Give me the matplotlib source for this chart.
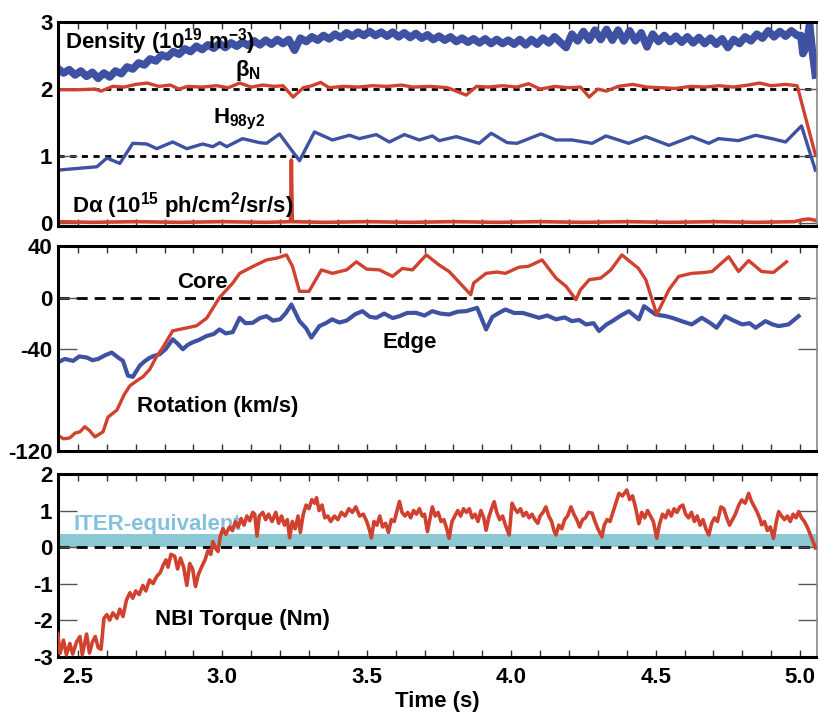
import numpy as np
import matplotlib
matplotlib.use("Agg")
import matplotlib.pyplot as plt
from matplotlib import font_manager

# ---- data ----
# top panel: line-averaged density (10^19 m^-3), sampled every 0.02 s from 2.43 s to 4.99 s
density = [
    2.31, 2.24, 2.29, 2.21, 2.27, 2.19, 2.25, 2.16, 2.24, 2.18,
    2.27, 2.23, 2.33, 2.30, 2.39, 2.36, 2.45, 2.42, 2.51, 2.48,
    2.56, 2.52, 2.60, 2.56, 2.64, 2.59, 2.66, 2.61, 2.68, 2.62,
    2.69, 2.64, 2.70, 2.65, 2.72, 2.66, 2.73, 2.67, 2.74, 2.68,
    2.74, 2.58, 2.76, 2.71, 2.78, 2.73, 2.80, 2.75, 2.82, 2.77,
    2.84, 2.79, 2.85, 2.80, 2.86, 2.80, 2.85, 2.79, 2.85, 2.78,
    2.84, 2.77, 2.83, 2.76, 2.81, 2.74, 2.79, 2.73, 2.78, 2.71,
    2.76, 2.70, 2.75, 2.69, 2.75, 2.68, 2.74, 2.68, 2.73, 2.67,
    2.74, 2.66, 2.74, 2.67, 2.76, 2.69, 2.78, 2.70, 2.62, 2.82,
    2.72, 2.86, 2.73, 2.88, 2.74, 2.89, 2.73, 2.88, 2.72, 2.87,
    2.72, 2.84, 2.63, 2.82, 2.71, 2.80, 2.71, 2.79, 2.70, 2.78,
    2.69, 2.77, 2.68, 2.76, 2.67, 2.75, 2.62, 2.74, 2.68, 2.78,
    2.72, 2.82, 2.76, 2.87, 2.78, 2.86, 2.79, 2.87, 2.80,
]
density_end_t = [5.003, 5.010, 5.020, 5.033, 5.043, 5.053]
density_end = [2.80, 2.53, 2.62, 2.96, 2.55, 2.21]

betaN_t = [2.43, 2.50, 2.56, 2.58, 2.62, 2.66, 2.70, 2.74, 2.78, 2.82, 2.85, 2.88,
           2.93, 2.98, 3.02, 3.06, 3.10, 3.14, 3.18, 3.21, 3.245, 3.28, 3.31, 3.34,
           3.37, 3.42, 3.47, 3.52, 3.57, 3.62, 3.66, 3.72, 3.78, 3.844, 3.88, 3.92,
           3.97, 4.02, 4.06, 4.10, 4.15, 4.20, 4.24, 4.27, 4.30, 4.33, 4.37, 4.42,
           4.47, 4.52, 4.57, 4.62, 4.67, 4.72, 4.77, 4.82, 4.86, 4.90, 4.95, 4.99,
           5.053]
betaN = [1.99, 1.99, 2.00, 1.97, 2.04, 2.03, 2.07, 2.09, 2.04, 2.06, 2.00, 2.04,
         2.03, 2.05, 2.02, 2.09, 2.03, 2.06, 2.04, 2.05, 1.88, 2.02, 2.05, 2.10,
         2.02, 2.04, 2.03, 2.05, 2.04, 2.06, 2.03, 2.04, 2.02, 1.91, 2.04, 2.03,
         2.05, 2.03, 2.08, 2.00, 2.04, 2.02, 2.03, 1.88, 2.00, 1.97, 2.04, 2.07,
         2.03, 2.02, 2.01, 2.04, 2.03, 2.05, 2.03, 2.06, 2.09, 2.05, 2.07, 2.05,
         1.02]

h98_t = [2.431, 2.566, 2.600, 2.645, 2.690, 2.738, 2.773, 2.828, 2.877, 2.932,
         2.967, 2.991, 3.015, 3.070, 3.129, 3.153, 3.198, 3.267, 3.319, 3.381,
         3.440, 3.474, 3.533, 3.578, 3.630, 3.682, 3.727, 3.751, 3.810, 3.889,
         3.931, 3.986, 4.020, 4.103, 4.155, 4.210, 4.280, 4.328, 4.407, 4.466,
         4.546, 4.625, 4.684, 4.718, 4.787, 4.846, 4.902, 4.950, 5.005, 5.053]
h98 = [0.79, 0.84, 0.97, 0.89, 1.19, 1.18, 1.11, 1.21, 1.11, 1.18,
       1.14, 1.20, 1.14, 1.26, 1.20, 1.19, 1.33, 0.93, 1.36, 1.24,
       1.31, 1.26, 1.32, 1.21, 1.32, 1.24, 1.30, 1.23, 1.29, 1.19,
       1.34, 1.20, 1.19, 1.33, 1.24, 1.24, 1.19, 1.30, 1.19, 1.29,
       1.16, 1.29, 1.19, 1.26, 1.23, 1.31, 1.26, 1.21, 1.45, 0.79]

dalpha_t = [2.43, 2.55, 2.70, 2.85, 3.00, 3.15, 3.236, 3.239, 3.242, 3.35, 3.50,
            3.65, 3.80, 3.95, 4.10, 4.25, 4.40, 4.55, 4.70, 4.85, 4.98, 5.01,
            5.03, 5.053]
dalpha = [0.02, 0.01, 0.02, 0.01, 0.02, 0.01, 0.02, 0.94, 0.02, 0.01, 0.02,
          0.01, 0.02, 0.01, 0.02, 0.01, 0.02, 0.01, 0.02, 0.01, 0.02, 0.05,
          0.06, 0.04]

# middle panel: toroidal rotation (km/s)
core_t = [2.430, 2.450, 2.472, 2.490, 2.507, 2.524, 2.540, 2.559, 2.587, 2.604,
          2.635, 2.660, 2.680, 2.704, 2.725, 2.749, 2.770, 2.794, 2.828, 2.870,
          2.911, 2.946, 2.990, 3.036, 3.060, 3.105, 3.130, 3.153, 3.190, 3.222,
          3.243, 3.267, 3.300, 3.343, 3.381, 3.430, 3.464, 3.500, 3.544, 3.589,
          3.623, 3.658, 3.706, 3.750, 3.785, 3.860, 3.870, 3.913, 3.950, 3.980,
          4.027, 4.060, 4.107, 4.155, 4.190, 4.224, 4.240, 4.270, 4.310, 4.345,
          4.383, 4.440, 4.466, 4.504, 4.546, 4.580, 4.625, 4.660, 4.695, 4.753,
          4.787, 4.822, 4.867, 4.908, 4.953]
core = [-107.7, -110.5, -109.8, -106.0, -105.0, -101.0, -104.0, -109.0, -105.0, -93.5,
        -88.0, -76.0, -69.0, -65.0, -62.0, -56.0, -47.0, -39.0, -26.0, -24.0,
        -22.0, -16.0, 0.0, 11.4, 19.0, 24.3, 27.0, 29.5, 31.0, 33.4,
        24.3, 4.9, 4.9, 21.7, 19.0, 21.7, 28.0, 22.3, 21.7, 16.6,
        22.8, 21.7, 33.4, 25.6, 20.4, 2.3, 11.4, 19.0, 20.0, 19.0,
        23.8, 24.5, 29.5, 15.3, 8.8, -1.6, 6.2, 14.0, 15.3, 21.7,
        33.4, 23.0, 14.0, -13.2, 6.2, 16.6, 19.0, 19.5, 20.4, 32.0,
        20.4, 29.0, 20.4, 19.7, 28.0]

edge_t = [2.430, 2.455, 2.483, 2.505, 2.531, 2.550, 2.570, 2.595, 2.617, 2.640,
          2.656, 2.673, 2.690, 2.714, 2.730, 2.749, 2.765, 2.783, 2.805, 2.828,
          2.845, 2.863, 2.880, 2.897, 2.920, 2.946, 2.970, 2.990, 3.012, 3.036,
          3.060, 3.080, 3.105, 3.130, 3.153, 3.175, 3.200, 3.220, 3.239, 3.267,
          3.290, 3.308, 3.336, 3.358, 3.380, 3.405, 3.430, 3.460, 3.485, 3.510,
          3.533, 3.560, 3.590, 3.613, 3.640, 3.670, 3.700, 3.727, 3.755, 3.785,
          3.815, 3.844, 3.882, 3.913, 3.935, 3.958, 3.980, 4.010, 4.040, 4.070,
          4.096, 4.125, 4.155, 4.185, 4.210, 4.235, 4.259, 4.285, 4.304, 4.330,
          4.350, 4.380, 4.407, 4.442, 4.460, 4.480, 4.500, 4.535, 4.560, 4.590,
          4.625, 4.660, 4.690, 4.711, 4.740, 4.770, 4.800, 4.825, 4.846, 4.880,
          4.905, 4.926, 4.960, 4.995]
edge = [-50.7, -48.0, -49.5, -46.0, -46.9, -49.0, -48.0, -45.0, -43.0, -47.0,
        -49.5, -61.0, -62.0, -53.3, -50.0, -47.0, -45.5, -44.3, -40.0, -32.6,
        -36.0, -40.4, -37.0, -35.0, -33.0, -30.0, -28.5, -24.9, -28.0, -27.0,
        -15.8, -20.0, -19.7, -16.0, -14.5, -18.0, -17.0, -12.0, -5.4, -18.4,
        -24.0, -31.3, -22.3, -20.0, -17.0, -19.5, -18.0, -13.0, -10.6, -15.0,
        -15.8, -12.5, -16.0, -14.5, -12.0, -11.9, -14.0, -10.6, -12.5, -13.2,
        -11.0, -10.6, -8.0, -24.9, -15.0, -11.9, -9.3, -12.0, -12.0, -14.0,
        -15.8, -14.0, -17.0, -15.5, -18.4, -17.5, -21.0, -20.0, -26.1, -21.0,
        -18.4, -14.0, -10.6, -17.0, -6.7, -10.0, -13.2, -14.5, -16.0, -18.4,
        -21.0, -15.8, -20.0, -23.6, -14.5, -18.0, -21.0, -20.0, -23.6, -18.4,
        -21.0, -22.3, -21.0, -14.5]

# bottom panel: NBI torque (Nm)
torque_t = [
    2.430, 2.438, 2.450, 2.460, 2.472, 2.482, 2.495, 2.507, 2.515, 2.530,
    2.540, 2.550, 2.560, 2.570, 2.580, 2.590, 2.600, 2.610, 2.621, 2.635,
    2.645, 2.656, 2.668, 2.680, 2.690, 2.700, 2.712, 2.725, 2.735, 2.748,
    2.760, 2.773, 2.785, 2.795, 2.805, 2.812, 2.822, 2.835, 2.845, 2.855,
    2.866, 2.877, 2.887, 2.897, 2.907, 2.917, 2.928, 2.940, 2.950, 2.960,
    2.967, 2.978, 2.985, 2.993, 3.002, 3.012, 3.025, 3.035, 3.045, 3.055,
    3.065, 3.075, 3.085, 3.095, 3.105, 3.112, 3.120, 3.128, 3.140, 3.150,
    3.160, 3.172, 3.185, 3.195, 3.205, 3.215, 3.225, 3.233, 3.242, 3.252,
    3.262, 3.270, 3.280, 3.290, 3.300, 3.310, 3.320, 3.326, 3.335, 3.345,
    3.355, 3.365, 3.375, 3.388, 3.400, 3.412, 3.425, 3.438, 3.450, 3.462,
    3.475, 3.488, 3.500, 3.510, 3.516, 3.525, 3.535, 3.545, 3.555, 3.565,
    3.575, 3.585, 3.595, 3.605, 3.613, 3.622, 3.632, 3.642, 3.652, 3.662,
    3.672, 3.682, 3.692, 3.700, 3.710, 3.718, 3.727, 3.737, 3.747, 3.757,
    3.767, 3.777, 3.785, 3.795, 3.805, 3.815, 3.825, 3.835, 3.845, 3.855,
    3.865, 3.875, 3.885, 3.895, 3.905, 3.913, 3.922, 3.932, 3.941, 3.950,
    3.960, 3.970, 3.980, 3.993, 4.003, 4.012, 4.022, 4.032, 4.042, 4.052,
    4.062, 4.072, 4.082, 4.092, 4.100, 4.110, 4.120, 4.130, 4.140, 4.148,
    4.155, 4.165, 4.175, 4.185, 4.195, 4.207, 4.217, 4.227, 4.237, 4.247,
    4.257, 4.267, 4.280, 4.290, 4.300, 4.314, 4.322, 4.332, 4.342, 4.352,
    4.362, 4.373, 4.385, 4.400, 4.410, 4.420, 4.430, 4.442, 4.452, 4.462,
    4.472, 4.482, 4.492, 4.504, 4.514, 4.524, 4.534, 4.544, 4.554, 4.564,
    4.574, 4.584, 4.594, 4.604, 4.614, 4.624, 4.634, 4.644, 4.654, 4.664,
    4.674, 4.684, 4.694, 4.704, 4.714, 4.726, 4.736, 4.746, 4.756, 4.766,
    4.776, 4.788, 4.798, 4.810, 4.822, 4.832, 4.842, 4.852, 4.862, 4.867,
    4.877, 4.887, 4.897, 4.908, 4.918, 4.926, 4.936, 4.946, 4.956, 4.966,
    4.976, 4.986, 4.995, 5.005, 5.015, 5.025, 5.036, 5.045, 5.053,
]
torque = [
    -2.36, -2.91, -2.55, -2.95, -2.64, -2.93, -2.60, -2.45, -2.95, -2.38,
    -2.90, -2.60, -2.45, -2.75, -2.80, -1.95, -1.85, -2.00, -1.80, -1.95,
    -1.70, -1.90, -1.45, -1.25, -1.40, -1.20, -1.30, -1.05, -1.20, -0.90,
    -1.00, -0.80, -0.70, -0.50, -0.35, -0.55, -0.20, -0.25, -0.60, -0.30,
    -0.55, -1.05, -0.45, -0.60, -1.08, -0.75, -0.55, -0.35, -0.10, -0.20,
    0.15, -0.05, -0.12, 0.30, 0.50, 0.35, 0.55, 0.45, 0.70, 0.55,
    0.78, 0.60, 0.85, 0.72, 0.95, 0.90, 0.30, 0.85, 0.95, 0.75,
    0.90, 0.70, 0.95, 0.65, 0.85, 0.60, 0.75, 0.25, 0.70, 0.50,
    0.85, 0.40, 0.90, 1.15, 1.05, 1.30, 1.20, 1.35, 1.00, 1.15,
    0.80, 0.85, 0.70, 0.85, 0.75, 0.95, 0.85, 1.05, 0.95, 1.10,
    0.85, 0.90, 0.70, 0.45, 0.25, 0.70, 0.60, 0.85, 0.55, 0.65,
    0.40, 0.75, 0.70, 1.00, 1.25, 0.95, 0.85, 0.95, 0.80, 1.00,
    0.90, 1.05, 0.85, 0.90, 0.42, 0.75, 1.10, 0.85, 0.95, 0.70,
    0.75, 0.50, 0.24, 0.70, 0.85, 1.00, 0.85, 1.05, 0.95, 1.05,
    0.80, 0.90, 0.70, 1.00, 0.80, 0.46, 0.80, 1.05, 1.24, 0.95,
    0.75, 0.85, 0.60, 0.33, 1.20, 1.05, 0.95, 1.05, 0.85, 0.95,
    0.80, 0.90, 0.75, 0.65, 0.85, 0.95, 1.10, 0.85, 0.70, 0.45,
    0.33, 0.60, 0.50, 0.75, 0.85, 1.10, 0.90, 0.75, 0.55, 0.75,
    0.80, 0.95, 0.93, 0.70, 0.50, 0.28, 0.60, 0.75, 0.70, 0.95,
    1.20, 1.47, 1.40, 1.56, 1.30, 1.40, 1.10, 0.64, 0.95, 0.80,
    1.00, 0.85, 0.70, 0.24, 0.65, 0.90, 0.80, 1.00, 0.85, 1.05,
    0.95, 1.10, 1.15, 0.90, 0.80, 0.95, 0.70, 0.85, 0.60, 0.75,
    0.50, 0.33, 0.65, 0.80, 0.70, 1.10, 1.05, 0.80, 0.60, 0.75,
    0.90, 1.15, 1.29, 1.20, 1.47, 1.25, 1.10, 0.95, 0.75, 0.61,
    0.70, 0.45, 0.55, 0.24, 0.70, 0.97, 0.85, 0.75, 0.85, 0.70,
    0.90, 0.80, 0.97, 0.80, 0.70, 0.55, 0.33, 0.15, -0.02,
]
iter_band = (0.0, 0.35)

top_yticks = [0, 1, 2, 3]
mid_yticks = [40, 0, -40, -120]
bot_yticks = [2, 1, 0, -1, -2, -3]
time_ticks = [2.5, 3.0, 3.5, 4.0, 4.5, 5.0]

# ---- style ----
RED = "#d0422f"
BLUE = "#3f51a2"
BAND = "#8cc7d4"
ITER_TXT = "#84c1de"

names = {f.name for f in font_manager.fontManager.ttflist}
if "Liberation Sans Narrow" in names:
    FAM, FS = "Liberation Sans Narrow", 17
else:
    FAM, FS = "Liberation Sans", 16

plt.rcParams["font.family"] = [FAM, "DejaVu Sans"]
plt.rcParams["font.weight"] = "bold"
plt.rcParams["axes.unicode_minus"] = False
plt.rcParams["mathtext.fontset"] = "custom"
plt.rcParams["mathtext.rm"] = FAM + ":bold"
plt.rcParams["mathtext.bf"] = FAM + ":bold"
plt.rcParams["mathtext.it"] = FAM + ":bold"
plt.rcParams["mathtext.default"] = "bf"

fig = plt.figure(figsize=(8.18, 7.13), dpi=100)
ax1 = fig.add_axes([0.0709, 0.683, 0.928, 0.286])
ax2 = fig.add_axes([0.0709, 0.3675, 0.928, 0.2875])
ax3 = fig.add_axes([0.0709, 0.0785, 0.928, 0.2567])

XLIM = (2.431, 5.059)


def style(ax, yticks):
    ax.set_xlim(*XLIM)
    ax.set_xticks(time_ticks)
    ax.set_xticks(np.arange(2.5, 5.05, 0.1), minor=True)
    ax.set_yticks(yticks)
    ax.tick_params(axis="x", which="both", direction="in", top=True, bottom=True,
                   length=5, width=1, color="#333333", labelsize=FS, pad=7)
    ax.tick_params(axis="y", direction="in", left=True, right=True,
                   length=14, width=1, color="#555555", labelsize=FS, pad=4)
    for s in ["left", "top", "bottom"]:
        ax.spines[s].set_linewidth(2.2)
        ax.spines[s].set_color("black")
    ax.spines["right"].set_linewidth(1.2)
    ax.spines["right"].set_color("#888888")
    for lab in ax.get_xticklabels() + ax.get_yticklabels():
        lab.set_fontweight("bold")


# top panel
t_dens = np.linspace(2.43, 4.99, len(density))
ax1.plot(np.concatenate([t_dens, density_end_t]), np.concatenate([density, density_end]),
         color=BLUE, lw=5.5)
for yv in (1, 2):
    ax1.axhline(yv, color="black", lw=2, ls=(0, (2.2, 2.0)), zorder=1)
ax1.plot(betaN_t, betaN, color=RED, lw=2.4)
ax1.plot(h98_t, h98, color=BLUE, lw=2.4)
ax1.plot(dalpha_t, dalpha, color=RED, lw=2.6)
ax1.set_ylim(-0.045, 3.0)
style(ax1, top_yticks)
ax1.tick_params(axis="x", labelbottom=False)
ax1.text(2.455, 2.61, r"Density (10$^{19}$ m$^{-3}$)", fontsize=FS, fontweight="bold", va="baseline")
ax1.text(3.09, 2.19, r"β$_{N}$", fontsize=FS, fontweight="bold", ha="center", va="baseline")
ax1.text(2.966, 1.48, r"H$_{98y2}$", fontsize=FS, fontweight="bold", va="baseline")
ax1.text(2.479, 0.15, r"D$\alpha$ (10$^{15}$ ph/cm$^{2}$/sr/s)", fontsize=FS,
         fontweight="bold", va="baseline")

# middle panel
ax2.axhline(0, color="black", lw=2, ls=(0, (4, 2.5)), zorder=1)
ax2.plot(edge_t, edge, color=BLUE, lw=3.0)
ax2.plot(core_t, core, color=RED, lw=2.4)
ax2.set_ylim(-118.8, 40.4)
style(ax2, mid_yticks)
ax2.tick_params(axis="x", labelbottom=False)
ax2.text(2.842, 7.8, "Core", fontsize=FS, fontweight="bold", va="baseline")
ax2.text(3.554, -39.5, "Edge", fontsize=FS, fontweight="bold", va="baseline")
ax2.text(2.704, -89.3, "Rotation (km/s)", fontsize=FS, fontweight="bold", va="baseline")

# bottom panel
ax3.axhspan(iter_band[0], iter_band[1], color=BAND, lw=0, zorder=0)
ax3.axhline(0, color="black", lw=2, ls=(0, (4, 2.5)), zorder=1)
ax3.text(2.483, 0.47, "ITER-equivalent", fontsize=FS, fontweight="bold",
         color=ITER_TXT, va="baseline", zorder=2)
ax3.plot(torque_t, torque, color=RED, lw=2.6, zorder=3)
ax3.set_ylim(-3.01, 2.0)
style(ax3, bot_yticks)
ax3.set_xticklabels([f"{v:.1f}" for v in time_ticks])
ax3.text(2.766, -2.14, "NBI Torque (Nm)", fontsize=FS, fontweight="bold", va="baseline")
ax3.set_xlabel("Time (s)", fontsize=FS, fontweight="bold", labelpad=2)

fig.savefig("out.png", dpi=100)
